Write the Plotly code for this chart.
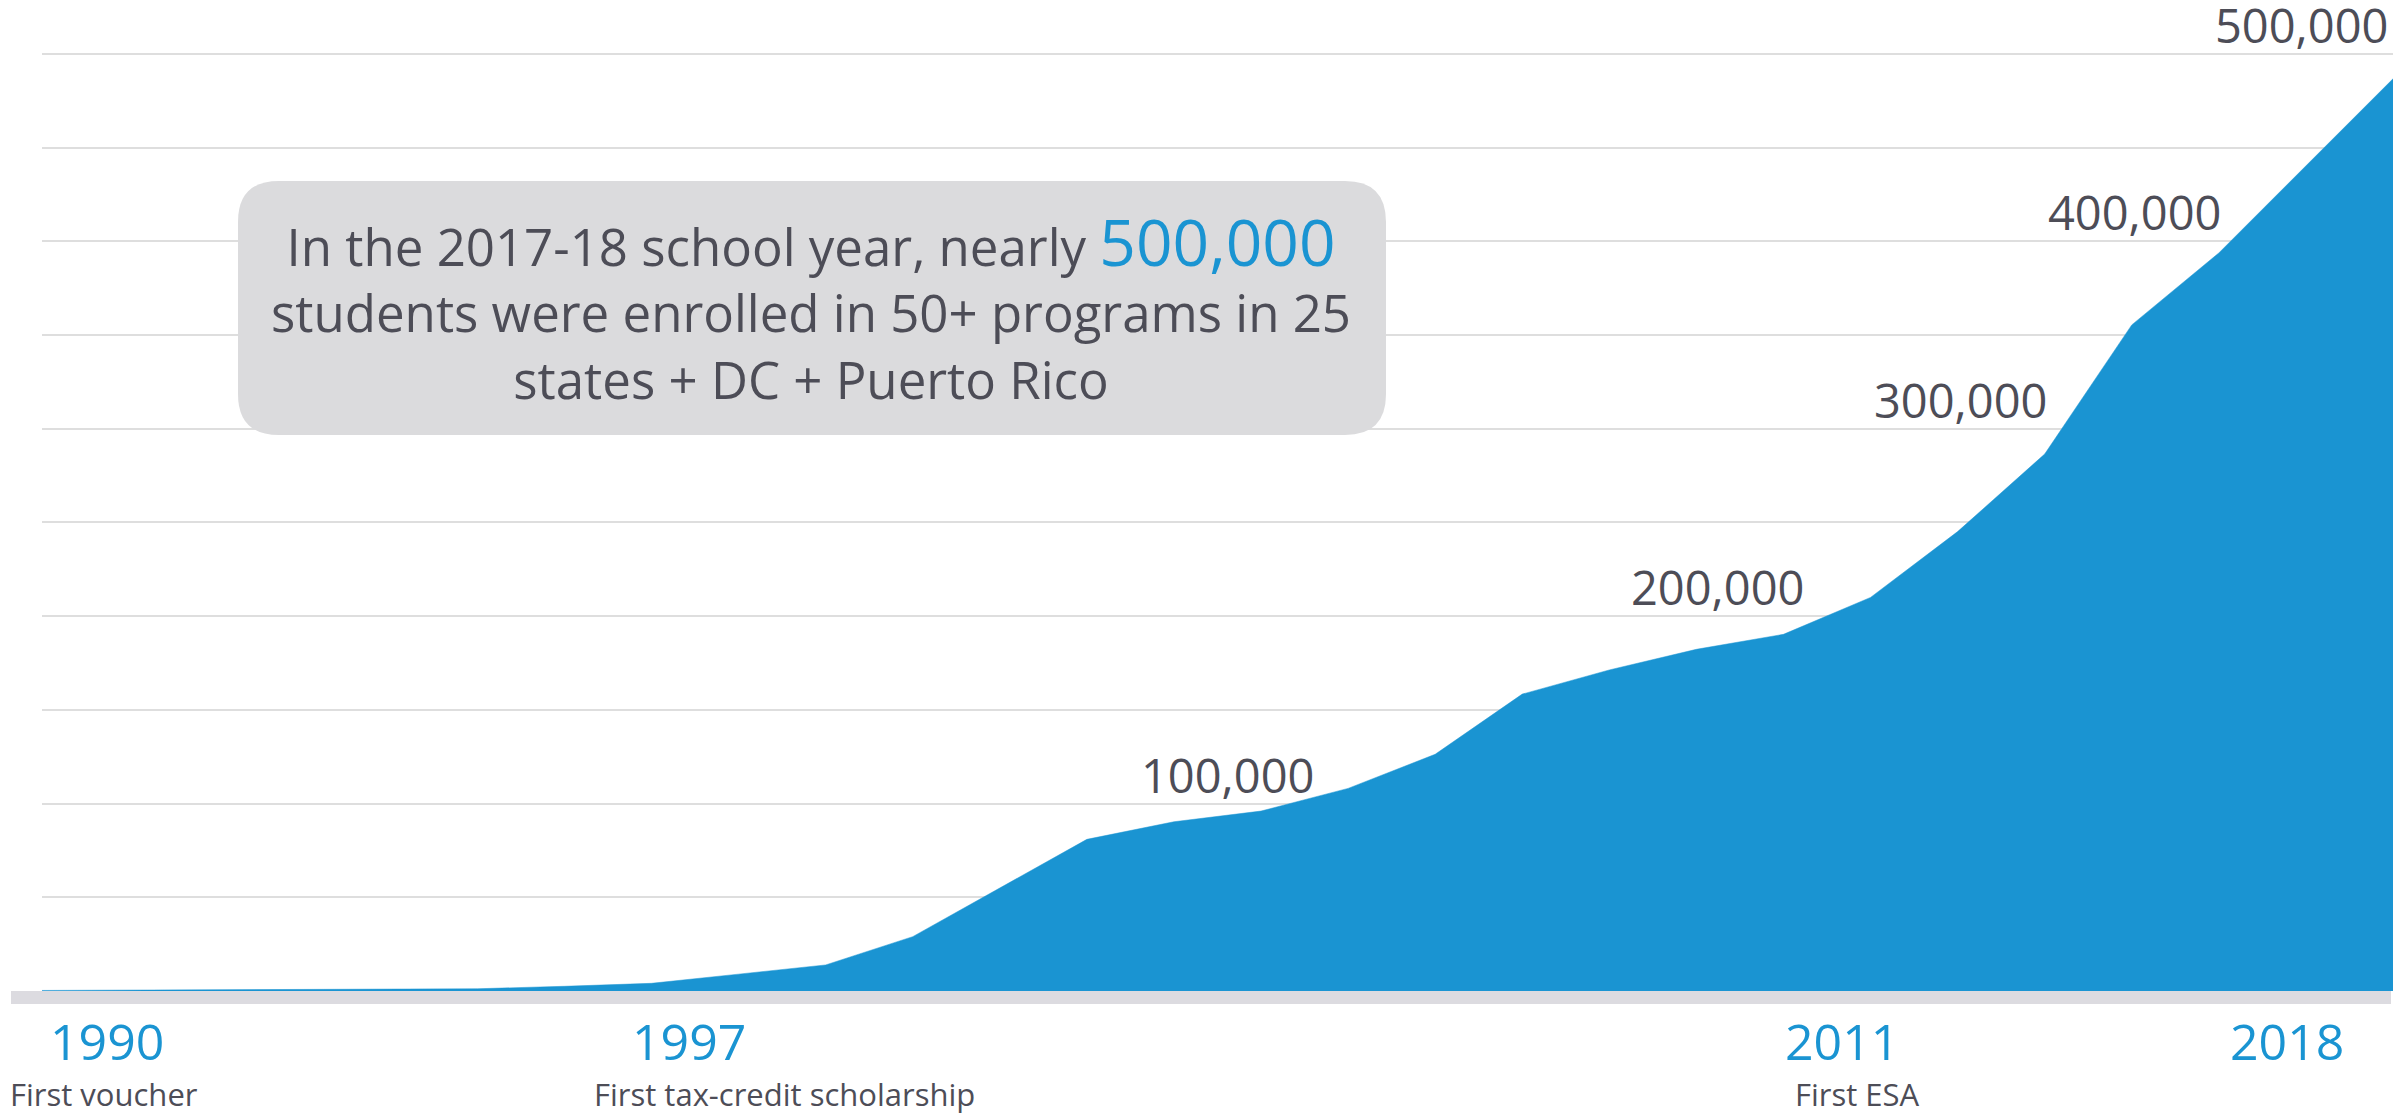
import plotly.graph_objects as go

# ---------------- data ----------------
years = list(range(1990, 2018))
students = [300, 500, 650, 800, 900, 1200, 2500, 4100, 9000, 13900,
            29000, 55000, 80900, 90300, 96000, 108100, 126300, 158400,
            171300, 182300, 190300, 210000, 245100, 286500, 355400,
            393800, 440200, 486700]

level_values = [100000, 200000, 300000, 400000, 500000]
level_labels = ["100,000", "200,000", "300,000", "400,000", "500,000"]

milestone_years = ["1990", "1997", "2011", "2018"]
milestone_notes = ["First voucher", "First tax-credit scholarship", "First ESA", ""]

callout_lines = ["In the 2017-18 school year, nearly ",
                 "students were enrolled in 50+ programs in 25",
                 "states + DC + Puerto Rico"]
callout_number = "500,000"

# ---------------- style ----------------
# the page body adds an 8 px offset; all pixel targets below are page pixels
OFF = 8
W, H = 2407 - OFF, 1118 - OFF
Y_TOP = 500000 * 1.002          # tiny headroom so the 500,000 gridline is drawn
ML, MR = 42 - OFF, 14
BASE_PX = 991                  # page y of value 0
TOP_PX = 54                    # page y of value 500,000
PH = (BASE_PX - TOP_PX) * Y_TOP / 500000
MB = H - (BASE_PX - OFF)
MT = H - MB - PH
PW = W - ML - MR
BLUE = "#1A94D2"
GRAY_TEXT = "#4D4D57"
GRID = "#DEDEDE"
FONT = "Open Sans"


def px_x(px):
    return (px - OFF - ML) / PW


def px_y(py):
    return (BASE_PX - py) / PH


fig = go.Figure()
fig.add_trace(go.Scatter(
    x=years, y=students, mode="lines", fill="tozeroy",
    fillcolor=BLUE, line=dict(color=BLUE, width=0.5),
    hoverinfo="skip", showlegend=False,
))

shapes = []
# baseline bar
shapes.append(dict(type="rect", xref="paper", yref="paper",
                   x0=px_x(11), x1=px_x(2391), y0=px_y(1004), y1=px_y(991),
                   fillcolor="#DCDBE0", line=dict(width=0), layer="above"))

# rounded callout box
bx0, bx1, by0, by1, r = 238, 1386, 181, 435, 41
rx, ry = r / PW, r / PH
X0, X1 = px_x(bx0), px_x(bx1)
Yt, Yb = px_y(by0), px_y(by1)
path = (f"M {X0 + rx} {Yt} L {X1 - rx} {Yt} Q {X1} {Yt} {X1} {Yt - ry} "
        f"L {X1} {Yb + ry} Q {X1} {Yb} {X1 - rx} {Yb} "
        f"L {X0 + rx} {Yb} Q {X0} {Yb} {X0} {Yb + ry} "
        f"L {X0} {Yt - ry} Q {X0} {Yt} {X0 + rx} {Yt} Z")
shapes.append(dict(type="path", xref="paper", yref="paper", path=path,
                   fillcolor="#DBDBDD", line=dict(width=0), layer="above"))

annotations = []
# callout text (one block, three lines)
callout_text = (callout_lines[0]
                + f"<span style='color:{BLUE};font-size:64px'>{callout_number}</span>"
                + "<br>" + callout_lines[1] + "<br>" + callout_lines[2])
annotations.append(dict(
    xref="paper", yref="paper", x=px_x(811), y=px_y(306),
    xanchor="center", yanchor="middle", showarrow=False, align="center",
    text=callout_text, font=dict(family=FONT, size=51, color=GRAY_TEXT)))

# level labels sitting on their gridlines
level_right_px = [1316, 1806, 2049, 2223, 2390]
for v, lab, rpx in zip(level_values, level_labels, level_right_px):
    annotations.append(dict(
        xref="paper", yref="y", x=px_x(rpx), y=v, yshift=-5,
        xanchor="right", yanchor="bottom", showarrow=False,
        text=lab, font=dict(family=FONT, size=47, color=GRAY_TEXT)))

# milestone years and notes
year_center_px = [107, 689, 1842, 2287]
note_px = [(8, "left"), (785, "center"), (1857, "center"), (2287, "center")]
for yr, cpx, note, (npx, nanc) in zip(milestone_years, year_center_px, milestone_notes, note_px):
    annotations.append(dict(
        xref="paper", yref="paper", x=px_x(cpx), y=px_y(1041),
        xanchor="center", yanchor="middle", showarrow=False,
        text=yr, font=dict(family=FONT, size=50, color=BLUE)))
    if note:
        annotations.append(dict(
            xref="paper", yref="paper", x=px_x(npx), y=px_y(1094),
            xanchor=nanc, yanchor="middle", showarrow=False,
            text=note, font=dict(family=FONT, size=31, color=GRAY_TEXT)))

fig.update_layout(
    width=W, height=H,
    margin=dict(l=ML, r=MR, t=MT, b=MB, pad=0),
    paper_bgcolor="white", plot_bgcolor="white",
    shapes=shapes, annotations=annotations,
    showlegend=False,
    xaxis=dict(range=[years[0], years[-1]], showgrid=False, zeroline=False,
               showticklabels=False, showline=False, ticks=""),
    yaxis=dict(range=[0, Y_TOP], dtick=50000, showgrid=True, gridcolor=GRID,
               gridwidth=2, zeroline=False, showticklabels=False,
               showline=False, ticks=""),
)

fig.write_html("out.html")
